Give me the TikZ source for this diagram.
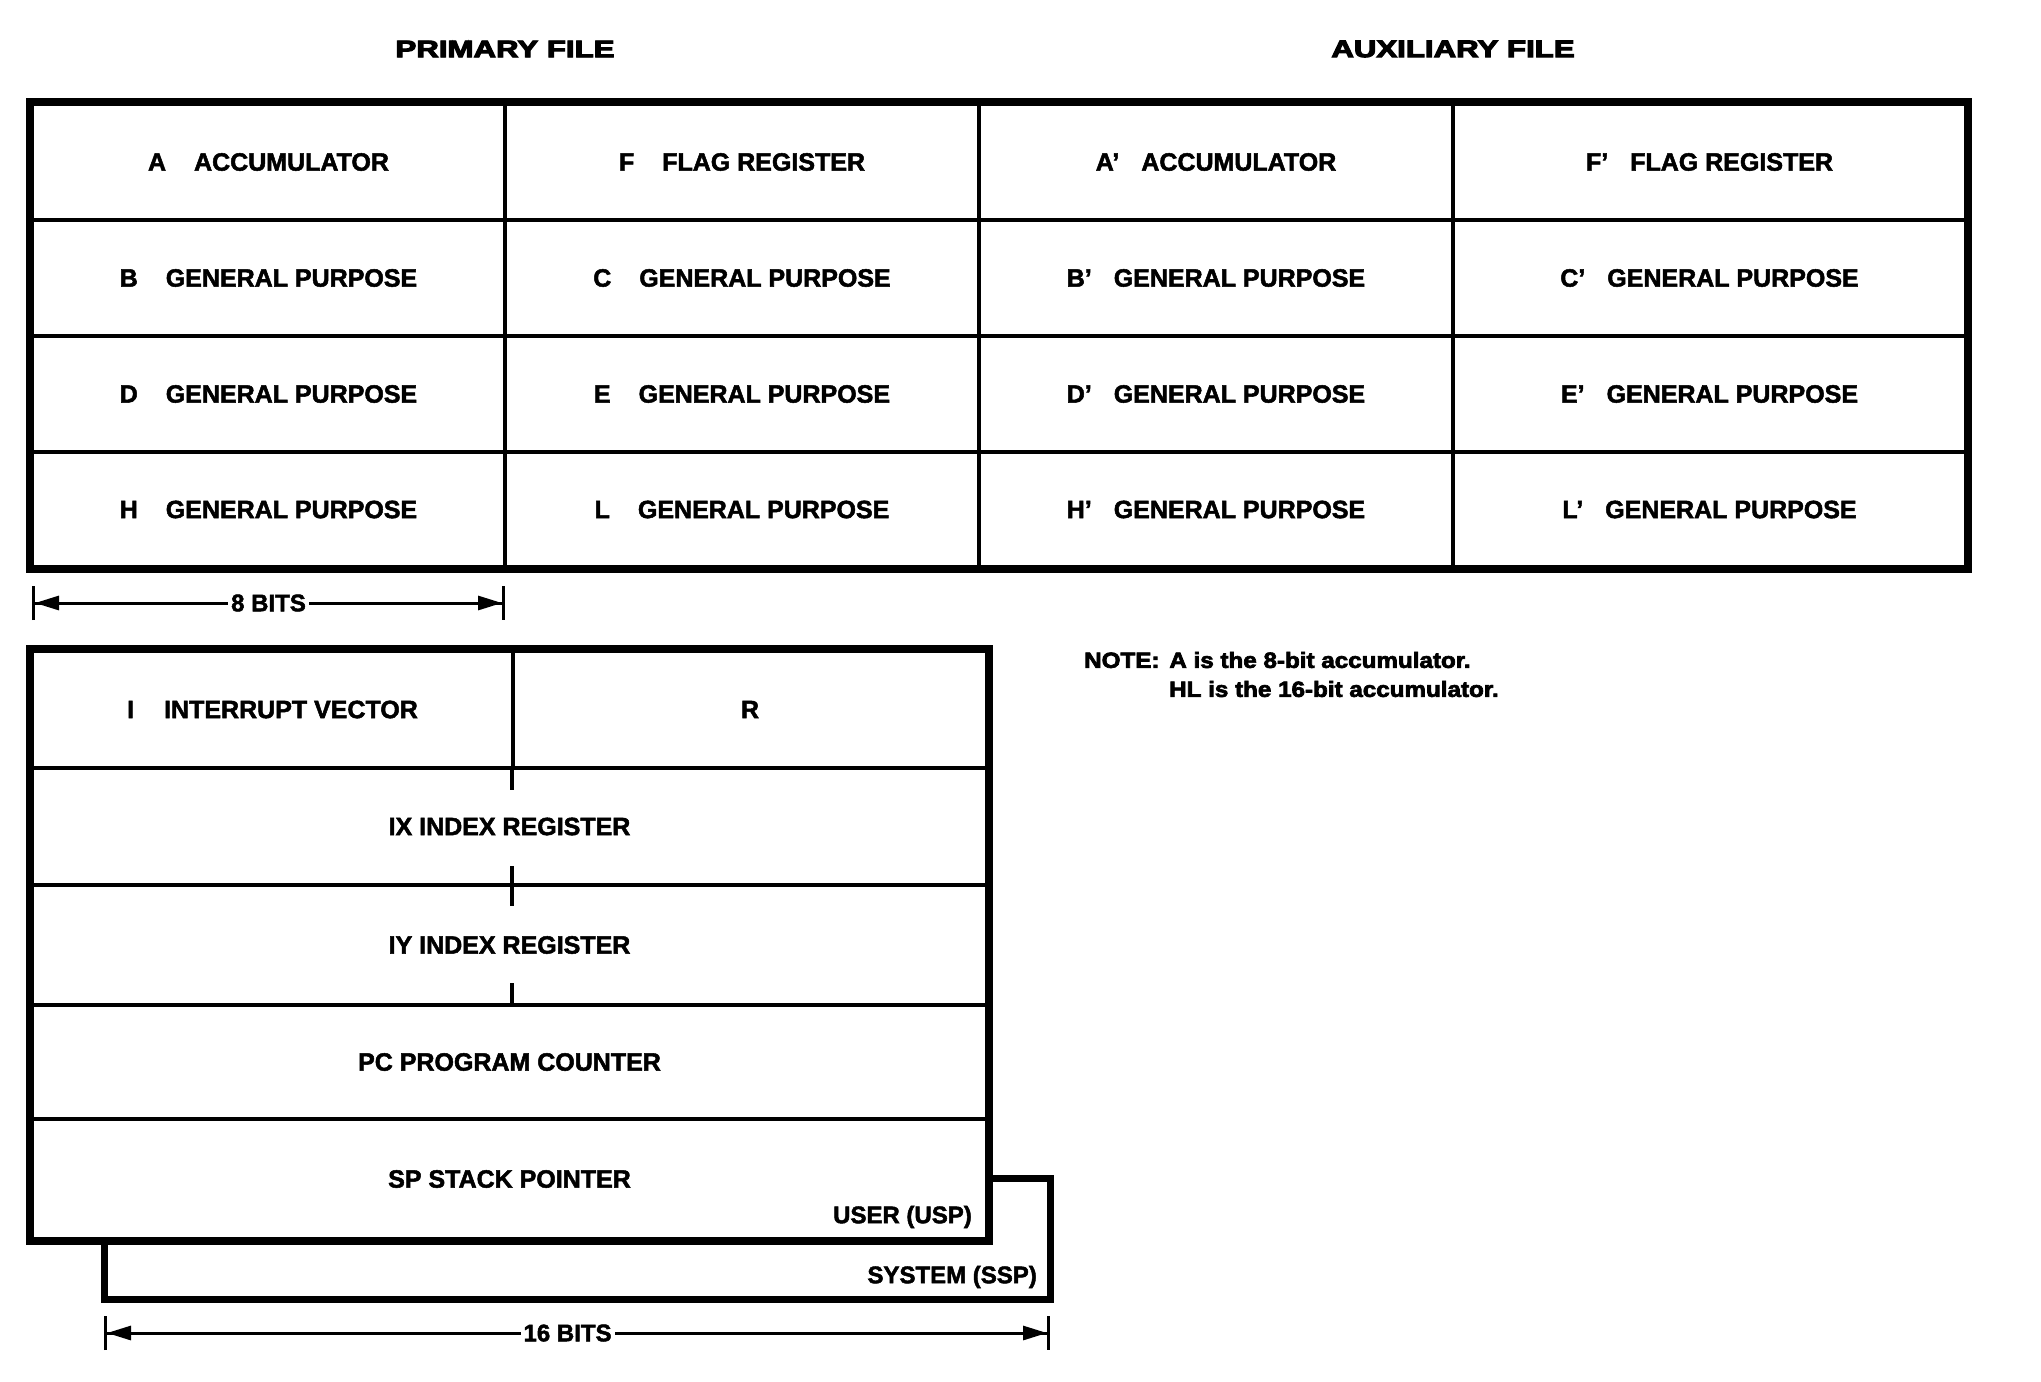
\documentclass[tikz,border=0pt]{standalone}
\usepackage{fontspec}
\setmainfont{Liberation Sans}[BoldFeatures={FakeBold=2}]
\newfontfamily\heavyfont[FakeBold=4]{Liberation Sans Bold}
\newfontfamily\notefont[FakeBold=3]{Liberation Sans Bold}
\usetikzlibrary{arrows.meta}
\tikzset{
  cell/.style={draw, line width=4pt, inner sep=0pt, align=center,
    font=\fontsize{25}{30}\selectfont\bfseries},
  frameline/.style={line width=8pt, line join=miter},
  titletext/.style={inner sep=0pt, font=\fontsize{24}{28}\selectfont\heavyfont},
  dimline/.style={line width=3pt, {Bar[width=34pt,line width=3pt]Triangle[length=24pt,width=14pt]}-{Triangle[length=24pt,width=14pt]Bar[width=34pt,line width=3pt]}},
  dimtext/.style={fill=white, inner sep=3pt, font=\fontsize{24}{28}\selectfont\bfseries},
  tick/.style={line width=4pt},
  subtext/.style={inner sep=0pt, font=\fontsize{24}{28}\selectfont\bfseries},
  notetext/.style={inner sep=0pt, anchor=west, font=\fontsize{22}{26}\selectfont\notefont},
}
\newcommand{\rg}[2]{#1\hspace{28pt}#2}
\newcommand{\rgp}[2]{#1\hspace{22pt}#2}
\begin{document}
\begin{tikzpicture}[x=1pt,y=-1pt]
\useasboundingbox (0,0) rectangle (2041,1381);

% titles
\node[titletext] (pf) at (505,49) {\scalebox{1.3}[1]{PRIMARY FILE}};
\node[titletext] (af) at (1453,49) {\scalebox{1.3}[1]{AUXILIARY FILE}};

% top register file: columns 32,505,979,1453,1966 ; rows 104,220,336,452,567
% row 1
\node[cell, minimum width=473pt, minimum height=116pt] (A)  at (268.5,162) {\rg{A}{ACCUMULATOR}};
\node[cell, minimum width=474pt, minimum height=116pt] (F)  at (742,162)   {\rg{F}{FLAG REGISTER}};
\node[cell, minimum width=474pt, minimum height=116pt] (Ap) at (1216,162)  {\rgp{A’}{ACCUMULATOR}};
\node[cell, minimum width=513pt, minimum height=116pt] (Fp) at (1709.5,162){\rgp{F’}{FLAG REGISTER}};
% row 2
\node[cell, minimum width=473pt, minimum height=116pt] (B)  at (268.5,278) {\rg{B}{GENERAL PURPOSE}};
\node[cell, minimum width=474pt, minimum height=116pt] (C)  at (742,278)   {\rg{C}{GENERAL PURPOSE}};
\node[cell, minimum width=474pt, minimum height=116pt] (Bp) at (1216,278)  {\rgp{B’}{GENERAL PURPOSE}};
\node[cell, minimum width=513pt, minimum height=116pt] (Cp) at (1709.5,278){\rgp{C’}{GENERAL PURPOSE}};
% row 3
\node[cell, minimum width=473pt, minimum height=116pt] (D)  at (268.5,394) {\rg{D}{GENERAL PURPOSE}};
\node[cell, minimum width=474pt, minimum height=116pt] (E)  at (742,394)   {\rg{E}{GENERAL PURPOSE}};
\node[cell, minimum width=474pt, minimum height=116pt] (Dp) at (1216,394)  {\rgp{D’}{GENERAL PURPOSE}};
\node[cell, minimum width=513pt, minimum height=116pt] (Ep) at (1709.5,394){\rgp{E’}{GENERAL PURPOSE}};
% row 4
\node[cell, minimum width=473pt, minimum height=115pt] (H)  at (268.5,509.5) {\rg{H}{GENERAL PURPOSE}};
\node[cell, minimum width=474pt, minimum height=115pt] (L)  at (742,509.5)   {\rg{L}{GENERAL PURPOSE}};
\node[cell, minimum width=474pt, minimum height=115pt] (Hp) at (1216,509.5)  {\rgp{H’}{GENERAL PURPOSE}};
\node[cell, minimum width=513pt, minimum height=115pt] (Lp) at (1709.5,509.5){\rgp{L’}{GENERAL PURPOSE}};
% outer frame
\draw[frameline] (A.north west) rectangle (Lp.south east);

% 8 bits dimension
\coordinate (e8a) at (32,603);
\coordinate (e8b) at (505,603);
\draw[dimline] (e8a) -- (e8b) node[dimtext, midway] (t8) {8 BITS};

% bottom block: x 32..987, rows 651,768,885,1005,1119,1239
% system (SSP) shadow box
\coordinate (s1) at (987,1178);
\coordinate (s2) at (1050,1178);
\coordinate (s3) at (1050,1299);
\coordinate (s4) at (104,1299);
\coordinate (s5) at (104,1239);
\draw[frameline, line width=7pt] (s1) -- (s2) -- (s3) -- (s4) -- (s5);
\node[subtext, anchor=east] (ssp) at (1037,1277) {SYSTEM (SSP)};

\node[cell, minimum width=481pt, minimum height=117pt] (I)  at (272.5,709.5) {I\hspace{30pt}INTERRUPT VECTOR};
\node[cell, minimum width=474pt, minimum height=117pt] (R)  at (750,709.5)   {R};
\node[cell, minimum width=955pt, minimum height=117pt] (IX) at (509.5,826.5) {IX INDEX REGISTER};
\node[cell, minimum width=955pt, minimum height=120pt] (IY) at (509.5,945)   {IY INDEX REGISTER};
\node[cell, minimum width=955pt, minimum height=114pt] (PC) at (509.5,1062)  {PC PROGRAM COUNTER};
\node[cell, minimum width=955pt, minimum height=120pt] (SP) at (509.5,1179)  {SP STACK POINTER};
\draw[frameline] (I.north west) rectangle (SP.south east);
\node[subtext, anchor=east] (usp) at (972,1217) {USER (USP)};

% byte boundary ticks
\coordinate (k1a) at (512,768);  \coordinate (k1b) at (512,790);
\coordinate (k2a) at (512,866);  \coordinate (k2b) at (512,906);
\coordinate (k3a) at (512,983);  \coordinate (k3b) at (512,1005);
\draw[tick] (k1a) -- (k1b);
\draw[tick] (k2a) -- (k2b);
\draw[tick] (k3a) -- (k3b);

% 16 bits dimension
\coordinate (e16a) at (104,1333);
\coordinate (e16b) at (1050,1333);
\draw[dimline] (e16a) -- (e16b) node[dimtext, pos=0.49] (t16) {16 BITS};

% note
\node[notetext] (note1) at (1084,660) {\scalebox{1.1}[1]{NOTE:\hspace{9pt}A is the 8-bit accumulator.}};
\node[notetext] (note2) at (1169,689) {\scalebox{1.1}[1]{HL is the 16-bit accumulator.}};
\end{tikzpicture}
\end{document}
